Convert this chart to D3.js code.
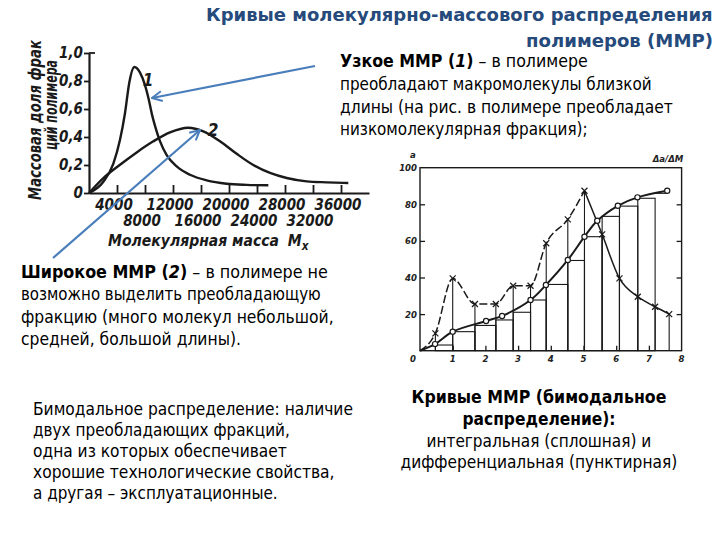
<!DOCTYPE html>
<html><head><meta charset="utf-8">
<script src="https://cdn.jsdelivr.net/npm/d3@7"></script>
<style>
body{margin:0;background:#fff;}
svg{display:block;}
</style></head><body>
<svg id="c" width="720" height="540"></svg>
<script>
// ---------- data: left chart (narrow / broad MWD) ----------
const leftYTicks = [0, 0.2, 0.4, 0.6, 0.8, 1.0];
const leftYLabels = ["0", "0,2", "0,4", "0,6", "0,8", "1,0"];
const leftXTicks = [4000, 8000, 12000, 16000, 20000, 24000, 28000, 32000, 36000];
const leftXLabelsTop = [4000, 12000, 20000, 28000, 36000];
const leftXLabelsBottom = [8000, 16000, 24000, 32000];
const narrowM = [0, 2050, 3480, 4430, 5140, 5760, 6480, 7290, 8000, 8480, 9000, 9430, 10140, 11100, 12530, 14430, 16810, 19670, 22530, 25620];
const narrowW = [0, 0.08, 0.21, 0.38, 0.57, 0.79, 0.90, 0.86, 0.77, 0.68, 0.56, 0.48, 0.37, 0.27, 0.19, 0.13, 0.09, 0.066, 0.058, 0.055];
const broadM = [0, 2050, 4430, 6810, 9190, 11570, 14190, 16330, 18710, 21100, 23470, 25860, 28240, 31100, 33960, 37040];
const broadW = [0, 0.107, 0.202, 0.29, 0.369, 0.433, 0.466, 0.44, 0.369, 0.28, 0.2, 0.143, 0.107, 0.083, 0.076, 0.071];

// ---------- data: right chart (bimodal) ----------
const rightXTicks = [0, 1, 2, 3, 4, 5, 6, 7, 8];
const rightYTicks = [0, 20, 40, 60, 80, 100];
const fracBounds = [0.47, 1.0, 1.68, 2.32, 2.85, 3.38, 3.86, 4.52, 5.03, 5.57, 6.1, 6.66, 7.19, 7.62];
const diffValues = [9.5, 39.5, 25.5, 25.5, 35.5, 35.5, 58.7, 71.8, 87.4, 63.6, 39.5, 29.5, 24, 20];
const barHeights = [3.1, 10.4, 13.8, 16.8, 21, 27.7, 36.2, 49.3, 62.3, 73.4, 79, 83.3, 86];
const integralX = [0, 0.46, 1.0, 2.02, 2.51, 3.38, 3.85, 4.52, 5.03, 5.42, 6.05, 6.65, 7.56];
const integralY = [0, 3.6, 10.4, 16.2, 19, 27.7, 35.9, 49.6, 62.3, 71, 79.2, 83.8, 87.4];

const svg = d3.select("#c");
const INK = "#1a1a1a";
const BLUE = "#4a7ebb";
const scanFont = "'DejaVu Sans Condensed', 'DejaVu Sans', sans-serif";
const bodyFont = "'DejaVu Sans', Verdana, sans-serif";

// place a text so that its rendered width equals w (horizontal squeeze via transform)
function place(t, x, y, w, anchor, rot) {
  t.attr("x", 0).attr("y", 0).attr("text-anchor", "start");
  const nat = t.node().getComputedTextLength();
  const k = w / nat;
  if (rot) {
    t.attr("transform", `translate(${x},${y}) rotate(${rot}) scale(${k},1)`);
  } else {
    const left = anchor === "end" ? x - w : anchor === "middle" ? x - w / 2 : x;
    t.attr("transform", `translate(${left},${y}) scale(${k},1)`);
  }
  return t;
}

// ================= LEFT CHART =================
const xL = d3.scaleLinear().domain([0, 40000]).range([89, 369]);
const yL = d3.scaleLinear().domain([0, 1]).range([193, 53]);
const gL = svg.append("g");

const axL = gL.append("g").attr("transform", `translate(${xL(0)},0)`)
  .call(d3.axisLeft(yL).tickValues(leftYTicks).tickSize(5).tickSizeOuter(0).tickPadding(1)
    .tickFormat((d, i) => leftYLabels[i]));
const axB = gL.append("g").attr("transform", `translate(0,${yL(0)})`)
  .call(d3.axisBottom(xL).tickValues(leftXTicks).tickSize(-8).tickSizeOuter(0).tickFormat(""));
[axL, axB].forEach(a => {
  a.select(".domain").attr("stroke", INK).attr("stroke-width", 2.2);
  a.selectAll(".tick line").attr("stroke", INK).attr("stroke-width", 1.8);
});
axL.selectAll(".tick text")
  .attr("font-family", scanFont).attr("font-style", "italic").attr("font-weight", "bold")
  .attr("font-size", 15).attr("fill", INK);
gL.append("line").attr("x1", xL(0)).attr("x2", xL(0) + 6).attr("y1", yL(1)).attr("y2", yL(1))
  .attr("stroke", INK).attr("stroke-width", 1.8);

const lblStyle = s => s.attr("font-family", scanFont).attr("font-style", "italic")
  .attr("font-weight", "bold").attr("fill", INK);
gL.selectAll("text.xt").data(leftXLabelsTop).join("text")
  .attr("x", d => xL(d) - 3).attr("y", 210).attr("text-anchor", "middle")
  .attr("font-size", 15).call(lblStyle).text(d => d);
gL.selectAll("text.xb").data(leftXLabelsBottom).join("text")
  .attr("x", d => xL(d) - 3).attr("y", 226).attr("text-anchor", "middle")
  .attr("font-size", 15).call(lblStyle).text(d => d);

const xTitle = gL.append("text").attr("font-size", 16).call(lblStyle);
xTitle.append("tspan").text("Молекулярная масса");
xTitle.append("tspan").attr("dx", 9).text("M");
xTitle.append("tspan").attr("dy", 4).attr("font-size", 12).text("x");
place(xTitle, 108, 246, 192);

place(gL.append("text").attr("font-size", 18).call(lblStyle).text("Массовая доля фрак"), 41, 200, 160, null, -90);
place(gL.append("text").attr("font-size", 18).call(lblStyle).text("ций полимера"), 57, 150, 90, null, -90);

const lineL = d3.line().x(d => xL(d[0])).y(d => yL(d[1])).curve(d3.curveMonotoneX);
gL.append("path").datum(narrowM.map((m, i) => [m, narrowW[i]])).attr("d", lineL)
  .attr("fill", "none").attr("stroke", INK).attr("stroke-width", 2.4);
gL.append("path").datum(broadM.map((m, i) => [m, broadW[i]])).attr("d", lineL)
  .attr("fill", "none").attr("stroke", INK).attr("stroke-width", 2.4);
gL.append("text").attr("x", 148).attr("y", 86).attr("text-anchor", "middle").attr("font-size", 17).call(lblStyle).text("1");
gL.append("text").attr("x", 213).attr("y", 136).attr("text-anchor", "middle").attr("font-size", 17).call(lblStyle).text("2");

// ================= RIGHT CHART =================
const xR = d3.scaleLinear().domain([0, 8]).range([420, 681.6]);
const yR = d3.scaleLinear().domain([0, 100]).range([350.7, 167.7]);
const gR = svg.append("g");
const thin = "#1a1a1a";

gR.append("rect").attr("x", xR(0)).attr("y", yR(100)).attr("width", xR(8) - xR(0)).attr("height", yR(0) - yR(100))
  .attr("fill", "none").attr("stroke", thin).attr("stroke-width", 1.4);
const inner = rightYTicks.filter(d => d > 0 && d < 100);
const axRL = gR.append("g").attr("transform", `translate(${xR(0)},0)`)
  .call(d3.axisLeft(yR).tickValues(inner).tickSize(-5).tickSizeOuter(0).tickFormat(""));
const axRR = gR.append("g").attr("transform", `translate(${xR(8)},0)`)
  .call(d3.axisRight(yR).tickValues(inner).tickSize(-5).tickSizeOuter(0).tickFormat(""));
const axRB = gR.append("g").attr("transform", `translate(0,${yR(0)})`)
  .call(d3.axisBottom(xR).tickValues(rightXTicks.filter(d => d > 0 && d < 8)).tickSize(-5).tickSizeOuter(0).tickFormat(""));
[axRL, axRR, axRB].forEach(a => {
  a.select(".domain").remove();
  a.selectAll(".tick line").attr("stroke", thin).attr("stroke-width", 1.3);
});
const smallStyle = s => s.attr("font-family", scanFont).attr("font-style", "italic")
  .attr("font-weight", "bold").attr("font-size", 9.5).attr("fill", "#222");
gR.selectAll("text.yl").data(rightYTicks.filter(d => d > 0)).join("text")
  .attr("x", 417).attr("y", d => yR(d) + 3.5).attr("text-anchor", "end").call(smallStyle).text(d => d);
gR.selectAll("text.xl").data(rightXTicks).join("text")
  .attr("x", d => d === 0 ? 413 : xR(d)).attr("y", 362).attr("text-anchor", "middle").call(smallStyle).text(d => d);
gR.append("text").attr("x", 413).attr("y", 158).attr("text-anchor", "middle").call(smallStyle).text("а");
gR.append("text").attr("x", 668).attr("y", 162).attr("text-anchor", "middle").call(smallStyle).text("Δа/ΔМ");

// histogram bars
const bars = barHeights.map((h, i) => ({x0: fracBounds[i], x1: i === barHeights.length - 1 ? integralX[integralX.length - 1] : fracBounds[i + 1], h, last: i === barHeights.length - 1}));
gR.selectAll("rect.bar").data(bars.filter(b => !b.last)).join("rect")
  .attr("x", b => xR(b.x0)).attr("y", b => yR(b.h)).attr("width", b => xR(b.x1) - xR(b.x0)).attr("height", b => yR(0) - yR(b.h))
  .attr("fill", "none").attr("stroke", thin).attr("stroke-width", 1.1);
gR.selectAll("line.bartop").data(bars.filter(b => b.last)).join("line")
  .attr("x1", b => xR(b.x0)).attr("x2", b => xR(b.x1)).attr("y1", b => yR(b.h)).attr("y2", b => yR(b.h))
  .attr("stroke", thin).attr("stroke-width", 1.1);
gR.selectAll("line.vl").data(fracBounds).join("line")
  .attr("x1", d => xR(d)).attr("x2", d => xR(d)).attr("y1", yR(0)).attr("y2", (d, i) => yR(diffValues[i]))
  .attr("stroke", thin).attr("stroke-width", 1.1);

// differential curve
const diffPts = [[0, 0]].concat(fracBounds.map((x, i) => [x, diffValues[i]]));
const lineR = d3.line().x(d => xR(d[0])).y(d => yR(d[1])).curve(d3.curveMonotoneX);
const peakIdx = diffPts.findIndex(p => p[0] === 5.03);
gR.append("path").attr("d", lineR(diffPts.slice(0, peakIdx + 1)))
  .attr("fill", "none").attr("stroke", thin).attr("stroke-width", 1.5).attr("stroke-dasharray", "8,3");
gR.append("path").attr("d", lineR(diffPts.slice(peakIdx)))
  .attr("fill", "none").attr("stroke", thin).attr("stroke-width", 1.5);
const xs = 3;
gR.selectAll("path.xm").data(diffPts.slice(1)).join("path")
  .attr("d", d => `M${xR(d[0]) - xs},${yR(d[1]) - xs}L${xR(d[0]) + xs},${yR(d[1]) + xs}M${xR(d[0]) - xs},${yR(d[1]) + xs}L${xR(d[0]) + xs},${yR(d[1]) - xs}`)
  .attr("stroke", thin).attr("stroke-width", 1.2).attr("fill", "none");

// integral curve
const intPts = integralX.map((x, i) => [x, integralY[i]]);
gR.append("path").attr("d", d3.line().x(d => xR(d[0])).y(d => yR(d[1])).curve(d3.curveCatmullRom.alpha(0.5))(intPts))
  .attr("fill", "none").attr("stroke", thin).attr("stroke-width", 2);
gR.selectAll("circle.im").data(intPts.slice(1)).join("circle")
  .attr("cx", d => xR(d[0])).attr("cy", d => yR(d[1])).attr("r", 2.6)
  .attr("fill", "#fff").attr("stroke", thin).attr("stroke-width", 1.2);

// ================= ARROWS =================
const defs = svg.append("defs");
defs.append("marker").attr("id", "ah").attr("viewBox", "0 0 12 12").attr("refX", 11).attr("refY", 6)
  .attr("markerWidth", 12).attr("markerHeight", 12).attr("markerUnits", "userSpaceOnUse").attr("orient", "auto")
  .append("path").attr("d", "M1,1 L11,6 L1,11").attr("fill", "none").attr("stroke", BLUE).attr("stroke-width", 2);
svg.append("line").attr("x1", 315).attr("y1", 66).attr("x2", 152).attr("y2", 98)
  .attr("stroke", BLUE).attr("stroke-width", 2.2).attr("marker-end", "url(#ah)");
svg.append("line").attr("x1", 53).attr("y1", 258).attr("x2", 200).attr("y2", 130)
  .attr("stroke", BLUE).attr("stroke-width", 2.2).attr("marker-end", "url(#ah)");

// ================= TEXT =================
const title = svg.append("g").attr("font-family", bodyFont).attr("font-weight", "bold")
  .attr("fill", "#254a7b").attr("font-size", 18);
place(title.append("text").text("Кривые молекулярно-массового распределения"), 713, 21, 507, "end");
place(title.append("text").text("полимеров (ММР)"), 713, 47, 187, "end");

// each line: one text element; mixed styles via tspans, squeezed to the measured width
function para(x, anchor, lines) {
  const g = svg.append("g").attr("font-family", bodyFont).attr("font-size", 17).attr("fill", "#000");
  lines.forEach(l => {
    const t = g.append("text").attr("xml:space", "preserve");
    l.parts.forEach(p => t.append("tspan").attr("font-weight", p.b ? "bold" : "normal")
      .attr("font-style", p.i ? "italic" : "normal").text(p.t));
    place(t, x, l.y, l.w, anchor);
  });
}
para(340, "start", [
  {y: 67, w: 248, parts: [{t: "Узкое ММР (", b: 1}, {t: "1", b: 1, i: 1}, {t: ")", b: 1}, {t: " – в полимере"}]},
  {y: 90, w: 312, parts: [{t: "преобладают макромолекулы близкой"}]},
  {y: 113, w: 333, parts: [{t: "длины (на рис. в полимере преобладает"}]},
  {y: 135, w: 248, parts: [{t: "низкомолекулярная фракция);"}]}
]);
para(21, "start", [
  {y: 278, w: 307, parts: [{t: "Широкое ММР (", b: 1}, {t: "2", b: 1, i: 1}, {t: ")", b: 1}, {t: " – в полимере не"}]},
  {y: 300, w: 300, parts: [{t: "возможно выделить преобладающую"}]},
  {y: 323, w: 313, parts: [{t: "фракцию (много молекул небольшой,"}]},
  {y: 345, w: 220, parts: [{t: "средней, большой длины)."}]}
]);
para(33, "start", [
  {y: 415, w: 320, parts: [{t: "Бимодальное распределение: наличие"}]},
  {y: 436, w: 257, parts: [{t: "двух преобладающих фракций,"}]},
  {y: 457, w: 254, parts: [{t: "одна из которых обеспечивает"}]},
  {y: 478, w: 302, parts: [{t: "хорошие технологические свойства,"}]},
  {y: 499, w: 245, parts: [{t: "а другая – эксплуатационные."}]}
]);
para(539, "middle", [
  {y: 403, w: 255, parts: [{t: "Кривые ММР (бимодальное", b: 1}]},
  {y: 425, w: 153, parts: [{t: "распределение):", b: 1}]},
  {y: 447, w: 225, parts: [{t: "интегральная (сплошная) и"}]},
  {y: 468, w: 277, parts: [{t: "дифференциальная (пунктирная)"}]}
]);
</script>
</body></html>
